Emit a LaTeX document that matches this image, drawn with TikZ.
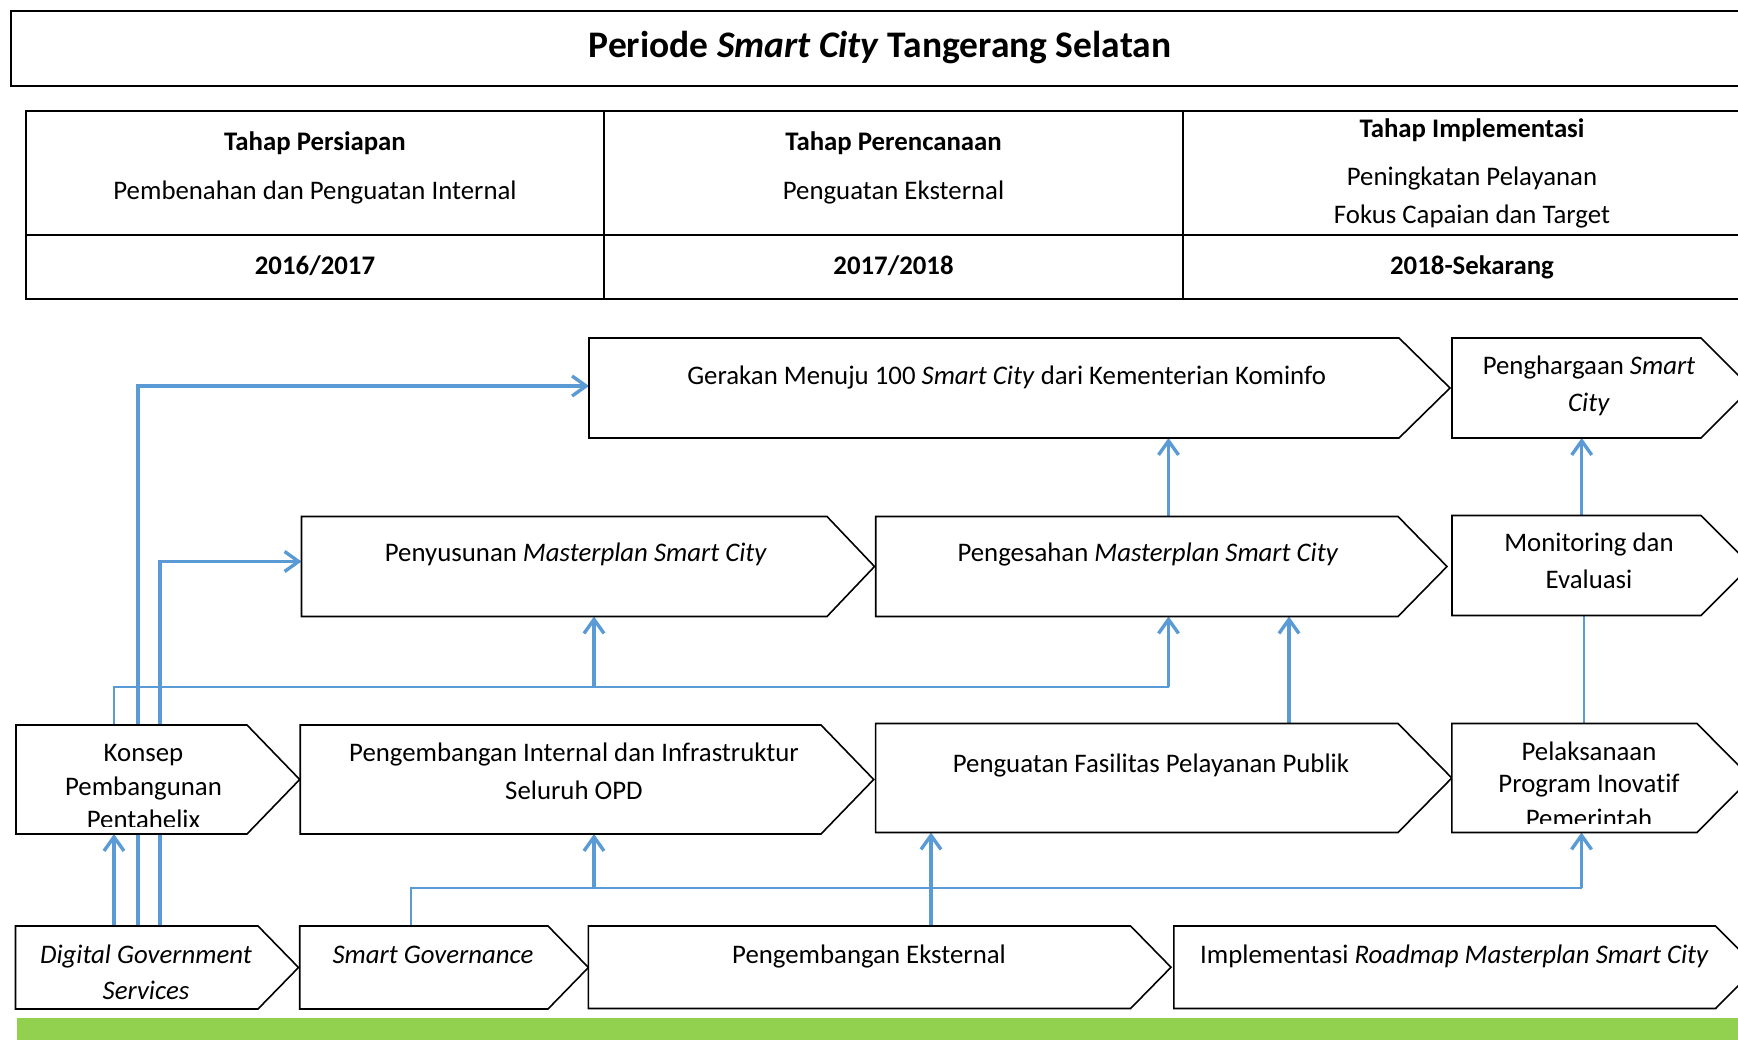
\documentclass[tikz,border=0pt]{standalone}
\usepackage{fontspec}
\setmainfont{Carlito}[Ligatures=NoCommon]
\usetikzlibrary{arrows.meta,calc}
\pgfdeclarelayer{bg}
\pgfsetlayers{bg,main}
\definecolor{cblue}{HTML}{5B9BD5}
\definecolor{cgreen}{HTML}{92D050}
\newcommand{\pentbox}[2]{%
  \filldraw[boxline] (#1.north west) -- (#1.north east) -- ([xshift=#2pt]#1.east) -- (#1.south east) -- (#1.south west) -- cycle;}
\tikzset{
  body/.style={rectangle, draw=none, inner sep=0pt, outer sep=0pt},
  boxline/.style={draw=black, fill=white, line width=1.6pt, line join=miter},
  txt/.style={font=\fontsize{26.8}{32}\selectfont, anchor=base, inner sep=0pt},
  btxt/.style={txt, font=\fontsize{26.8}{32}\selectfont\bfseries},
  arr/.style={cblue, line width=3.4pt, -{Straight Barb[length=14pt,width=20pt]}},
  thinl/.style={cblue, line width=1.9pt},
}
\begin{document}
\begin{tikzpicture}[x=1pt,y=-1pt]
\clip (0,0) rectangle (1738,1048);

% title
\node[body, minimum width=1749pt, minimum height=75pt, draw=black, line width=2.6pt] (titlebox) at (885.5,48.5) {};
\node[txt, font=\fontsize{37.5}{40}\selectfont\bfseries] (title) at (880,57.5) {Periode \textit{Smart City} Tangerang Selatan};

% table
\node[body, minimum width=578.5pt, minimum height=124pt, draw=black, line width=2pt] (c11) at (314.75,173) {};
\node[body, minimum width=579pt, minimum height=124pt, draw=black, line width=2pt] (c12) at (893.5,173) {};
\node[body, minimum width=578pt, minimum height=124pt, draw=black, line width=2pt] (c13) at (1472,173) {};
\node[body, minimum width=578.5pt, minimum height=64pt, draw=black, line width=2pt] (c21) at (314.75,267) {};
\node[body, minimum width=579pt, minimum height=64pt, draw=black, line width=2pt] (c22) at (893.5,267) {};
\node[body, minimum width=578pt, minimum height=64pt, draw=black, line width=2pt] (c23) at (1472,267) {};
\draw[line width=2.6pt] (c11.south west) -- (c13.south east);
\draw[line width=2.6pt] (c11.north west) -- (c13.north east);
\draw[line width=2.6pt] (c21.south west) -- (c23.south east);

\node[btxt] (h1) at (315,151) {Tahap Persiapan};
\node[txt] (s1) at (315,200) {Pembenahan dan Penguatan Internal};
\node[btxt] (h2) at (893.5,151) {Tahap Perencanaan};
\node[txt] (s2) at (893.5,200) {Penguatan Eksternal};
\node[btxt] (h3) at (1472,138) {Tahap Implementasi};
\node[txt] (s3a) at (1472,186) {Peningkatan Pelayanan};
\node[txt] (s3b) at (1472,224) {Fokus Capaian dan Target};
\node[btxt] (y1) at (315,275) {2016/2017};
\node[btxt] (y2) at (893.5,275) {2017/2018};
\node[btxt] (y3) at (1472,275) {2018-Sekarang};

% box bodies
\node[body, minimum width=810pt, minimum height=100pt] (gerakan) at (994,388) {};
\node[body, minimum width=249pt, minimum height=100pt] (penghargaan) at (1576.5,388) {};
\node[body, minimum width=525.5pt, minimum height=100pt] (penyusunan) at (564.25,566.5) {};
\node[body, minimum width=522.3pt, minimum height=100pt] (pengesahan) at (1136.85,566.5) {};
\node[body, minimum width=249pt, minimum height=100pt] (monitoring) at (1576.5,565.5) {};
\node[body, minimum width=231pt, minimum height=109pt] (konsep) at (131.5,779.5) {};
\node[body, minimum width=520.8pt, minimum height=109pt] (pinternal) at (560.6,779.5) {};
\node[body, minimum width=522.4pt, minimum height=109pt] (fasilitas) at (1136.8,778) {};
\node[body, minimum width=245.2pt, minimum height=109pt] (pelaksanaan) at (1574.4,778) {};
\node[body, minimum width=242.5pt, minimum height=83pt] (digital) at (136.75,967.5) {};
\node[body, minimum width=248.3pt, minimum height=83pt] (smartgov) at (423.85,967.5) {};
\node[body, minimum width=542.2pt, minimum height=82.5pt] (eksternal) at (859.5,967.25) {};
\node[body, minimum width=541.8pt, minimum height=82.5pt] (implementasi) at (1444.7,967.25) {};

\pentbox{gerakan}{51}
\pentbox{penghargaan}{50}
\pentbox{penyusunan}{47.5}
\pentbox{pengesahan}{49}
\pentbox{monitoring}{50}
\pentbox{konsep}{52.7}
\pentbox{pinternal}{52.7}
\pentbox{fasilitas}{53.8}
\pentbox{pelaksanaan}{54}
\pentbox{digital}{40.5}
\pentbox{smartgov}{40.4}
\pentbox{eksternal}{40.4}
\pentbox{implementasi}{41}

% connectors
\coordinate (j1) at (1168.5,686.7);
\coordinate (j2) at (594,686.7);
\coordinate (j3) at (1581.5,887.7);
\coordinate (j4) at (594,887.7);
\begin{pgfonlayer}{bg}
\fill[white] (0,0) rectangle (1738,1048);
\draw[arr] ([xshift=122.5pt]digital.north west) |- ([yshift=2pt]gerakan.west);
\draw[arr] ([xshift=144.5pt]digital.north west) |- ([yshift=5pt]penyusunan.west);
\draw[arr] ([xshift=98.5pt]digital.north west) -- ([xshift=98.5pt]digital.north west |- konsep.south);
\draw[thinl] ([xshift=98pt]konsep.north west) |- (j1);
\draw[arr] (j1) -- (j1 |- pengesahan.south);
\draw[arr] (j2) -- (j2 |- penyusunan.south);
\draw[thinl] ([xshift=111.3pt]smartgov.north west) |- (j3);
\draw[arr] (j3) -- (j3 |- pelaksanaan.south);
\draw[arr] (j4) -- (j4 |- pinternal.south);
\draw[arr] ([xshift=342.6pt]eksternal.north west) -- ([xshift=342.6pt]eksternal.north west |- fasilitas.south);
\draw[arr] ([xshift=413.4pt]fasilitas.north west) -- ([xshift=413.4pt]fasilitas.north west |- pengesahan.south);
\draw[arr] ([xshift=292.8pt]pengesahan.north west) -- ([xshift=292.8pt]pengesahan.north west |- gerakan.south);
\draw[arr] ([xshift=129.7pt]monitoring.north west) -- ([xshift=129.7pt]monitoring.north west |- penghargaan.south);
\draw[thinl] ([xshift=132.2pt]pelaksanaan.north west) -- ([xshift=132.2pt]pelaksanaan.north west |- monitoring.south);
\end{pgfonlayer}

% texts
\node[txt] (t-gerakan) at (1006.6,385) {Gerakan Menuju 100 \textit{Smart City} dari Kementerian Kominfo};
\node[txt] (t-penghargaan1) at (1589,375) {Penghargaan \textit{Smart}};
\node[txt] (t-penghargaan2) at (1589,411.5) {\textit{City}};
\node[txt] (t-penyusunan) at (576,561) {Penyusunan \textit{Masterplan Smart City}};
\node[txt] (t-pengesahan) at (1148,561) {Pengesahan \textit{Masterplan Smart City}};
\node[txt] (t-monitoring1) at (1589,551) {Monitoring dan};
\node[txt] (t-monitoring2) at (1589,588) {Evaluasi};
\begin{scope}
\clip ([yshift=8pt]konsep.south west) rectangle (konsep.north east);
\node[txt] (t-konsep1) at (143.5,761) {Konsep};
\node[txt] (t-konsep2) at (143.5,795) {Pembangunan};
\node[txt] (t-konsep3) at (143.5,828) {Pentahelix};
\end{scope}
\node[txt] (t-pinternal1) at (574,761.5) {Pengembangan Internal dan Infrastruktur};
\node[txt] (t-pinternal2) at (574,799) {Seluruh OPD};
\node[txt] (t-fasilitas) at (1151,772) {Penguatan Fasilitas Pelayanan Publik};
\begin{scope}
\clip ([yshift=9pt]pelaksanaan.south west) rectangle (pelaksanaan.north east);
\node[txt] (t-pelaksanaan1) at (1589,760) {Pelaksanaan};
\node[txt] (t-pelaksanaan2) at (1589,792.5) {Program Inovatif};
\node[txt] (t-pelaksanaan3) at (1589,827) {Pemerintah};
\end{scope}
\node[txt] (t-digital1) at (146,963) {\textit{Digital Government}};
\node[txt] (t-digital2) at (146,999.5) {\textit{Services}};
\node[txt] (t-smartgov) at (433,963) {\textit{Smart Governance}};
\node[txt] (t-eksternal) at (869,963) {Pengembangan Eksternal};
\node[txt] (t-implementasi) at (1454.5,963) {Implementasi \textit{Roadmap Masterplan Smart City}};

% green bar
\node[body, fill=cgreen, minimum width=1740pt, minimum height=22.3pt] (greenbar) at (887,1028.85) {};
\end{tikzpicture}
\end{document}
